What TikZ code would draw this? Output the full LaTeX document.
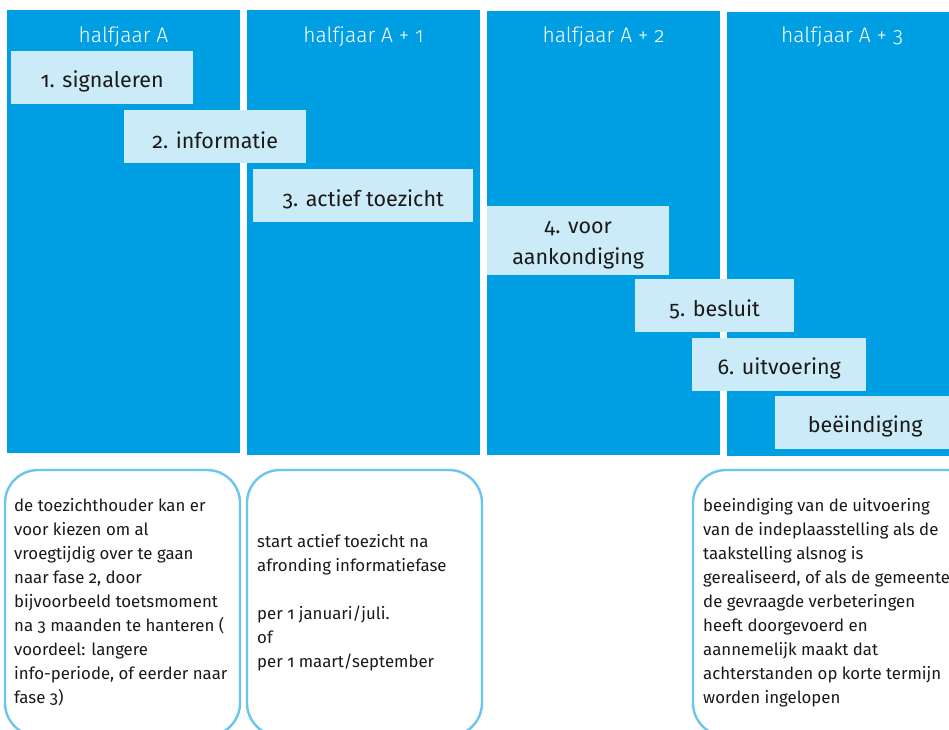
\documentclass[tikz,border=0pt]{standalone}
\usepackage{fontspec}
\setmainfont{Fira Sans}[Numbers=OldStyle]
\newfontfamily\lightfont{Fira Sans Light}[Numbers=OldStyle]
\definecolor{colblue}{HTML}{009FE3}
\definecolor{phase}{HTML}{CCEBF8}
\definecolor{edgeblue}{HTML}{6CC5EE}
\definecolor{ink}{HTML}{1A1A1A}
\tikzset{
  column/.style={fill=colblue, draw=none, anchor=north west, inner sep=0pt},
  header/.style={text=white, font=\lightfont\fontsize{21}{24}\selectfont, anchor=center},
  phasebox/.style={fill=phase, draw=none, anchor=north west, inner sep=0pt},
  phaselabel/.style={text=ink, inner sep=0pt, font=\fontsize{21.5}{31}\selectfont, align=center},
  notebox/.style={draw=edgeblue, line width=2.4pt, rounded corners=33pt, fill=white},
  notetext/.style={anchor=north west, inner sep=0pt, text=ink, align=left,
    font=\fontsize{16.8}{24}\selectfont}
}
\begin{document}
\begin{tikzpicture}[x=1pt,y=-1pt]
\useasboundingbox (0,0) rectangle (949,729);
% columns
\node[column, minimum width=233pt, minimum height=443pt] (c1) at (7,10) {};
\node[column, minimum width=233pt, minimum height=445pt] (c2) at (247,10) {};
\node[column, minimum width=233pt, minimum height=444pt] (c3) at (487,11) {};
\node[column, minimum width=225pt, minimum height=444pt] (c4) at (727,12) {};
% headers
\node[header] (h1) at (123.5,37) {halfjaar A};
\node[header] (h2) at (363.5,37) {halfjaar A + 1};
\node[header] (h3) at (603.5,37) {halfjaar A + 2};
\node[header] (h4) at (842,37) {halfjaar A + 3};
% phase boxes
\node[phasebox, minimum width=182pt, minimum height=53pt] (p1) at (11,51) {};
\node[phasebox, minimum width=182pt, minimum height=53pt] (p2) at (124,110) {};
\node[phasebox, minimum width=220pt, minimum height=53pt] (p3) at (253,169) {};
\node[phasebox, minimum width=182pt, minimum height=69pt] (p4) at (487,206) {};
\node[phasebox, minimum width=159pt, minimum height=53pt] (p5) at (635,279) {};
\node[phasebox, minimum width=174pt, minimum height=53pt] (p6) at (692,338) {};
\node[phasebox, minimum width=180pt, minimum height=53pt] (p7) at (775,396) {};
\node[phaselabel] (l1) at ([yshift=-4pt]p1.center) {1. signaleren};
\node[phaselabel] (l2) at ([yshift=-4pt]p2.center) {2. informatie};
\node[phaselabel] (l3) at ([yshift=-4pt]p3.center) {3. actief toezicht};
\node[phaselabel] (l4) at ([yshift=-4pt]p4.center) {4. voor\\aankondiging};
\node[phaselabel] (l5) at ([yshift=-4pt]p5.center) {5. besluit};
\node[phaselabel] (l6) at ([yshift=-4pt]p6.center) {6. uitvoering};
\node[phaselabel] (l7) at ([yshift=-4pt]p7.center) {beëindiging};
% note boxes
\begin{scope}
\clip (0,0) rectangle (949,729);
\draw[notebox] (5,470) rectangle (240,736);
\draw[notebox] (247,470) rectangle (482,736);
\draw[notebox] (693,470) rectangle (980,736);
\end{scope}
\node[notetext] (n1) at (14,498) {de toezichthouder kan er\\voor kiezen om al\\vroegtijdig over te gaan\\naar fase 2, door\\bijvoorbeeld toetsmoment\\na 3 maanden te hanteren (\\voordeel: langere\\info-periode, of eerder naar\\fase 3)};
\node[notetext] (n2) at (257,534) {start actief toezicht na\\afronding informatiefase\\[24pt]per 1 januari/juli.\\of\\per 1 maart/september};
\node[notetext] (n3) at (703,498) {beeindiging van de uitvoering\\van de indeplaasstelling als de\\taakstelling alsnog is\\gerealiseerd, of als de gemeente\\de gevraagde verbeteringen\\heeft doorgevoerd en\\aannemelijk maakt dat\\achterstanden op korte termijn\\worden ingelopen};
\end{tikzpicture}
\end{document}
